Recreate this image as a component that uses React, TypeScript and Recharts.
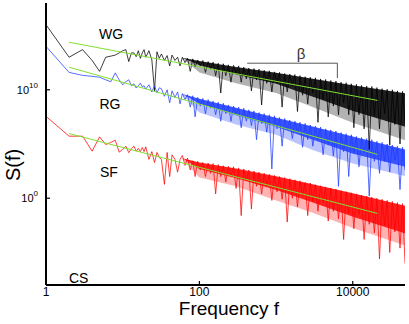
import { ComposedChart, Line, Area, XAxis, YAxis, ReferenceLine } from 'recharts'

const FONT = '"Liberation Sans", Arial, Helvetica, sans-serif'

// frequencies shared by all three spectra
const freq = [
  1, 2, 3, 4, 5, 6, 7, 8, 9, 10, 11, 12, 13, 14, 15, 16, 17, 18, 19, 20, 22, 24, 26, 28, 30,
  32, 35, 38, 41, 44, 48, 52, 56, 60, 65, 70, 76, 82, 88, 95, 103, 111, 120, 130, 140,
  151, 163, 176, 190, 205, 221, 239, 258, 279, 301, 325, 351, 379, 409, 442, 477, 515, 556, 600, 648,
  700, 756, 816, 881, 952, 1028, 1110, 1199, 1295, 1398, 1510, 1631, 1761, 1902, 2054, 2218, 2396, 2587, 2794, 3018,
  3259, 3520, 3802, 4106, 4434, 4789, 5172, 5586, 6033, 6515, 7036, 7599, 8207, 8864, 9573, 10339, 11166, 12059, 13024, 14066,
  15191, 16406, 17719, 19136, 20667, 22321, 24106, 26035, 28117, 30367, 32796, 35420, 38253, 41314, 44619, 48000,
]

// log10 S(f)
const wgLog = [
  16.0, 13.0, 13.7, 12.7, 11.7, 13.0, 13.1, 13.2, 13.4, 13.6, 13.7, 12.6, 13.4, 13.4, 13.05, 13.6, 12.9, 13.4, 13.7, 13.0, 13.6, 12.75, 9.9, 13.5, 12.9,
  13.3, 12.7, 13.15, 12.2, 13.2, 12.7, 13.0, 12.2, 13.0, 12.5,
  12.9, 11.7, 12.85, 12.1, 12.75, 12.2, 12.7, 11.6, 12.6, 11.9,
  12.55, 11.3, 12.45, 9.7, 12.4, 11.3, 12.3, 10.7, 12.25, 11.5,
  12.2, 10.7, 12.1, 11.0, 12.0, 9.9, 11.95, 10.9, 11.9, 8.6,
  11.8, 10.6, 11.75, 9.8, 11.65, 10.6, 11.6, 8.4, 11.5, 9.8,
  11.45, 10.4, 11.4, 8.0, 11.3, 9.5, 11.2, 8.7, 11.15, 9.7,
  11.1, 7.0, 11.0, 9.1, 10.95, 7.5, 10.85, 8.5, 10.8, 7.7,
  10.7, 8.8, 10.65, 7.7, 10.55, 6.5, 10.5, 7.7, 10.4, 6.4,
  10.35, 4.5, 10.3, 7.6, 10.2, 6.4, 10.1, 7.8, 10.05, 4.9,
  10.0, 6.8, 9.9, 5.0, 9.85, 6.9,
]

const rgLog = [
  14.0, 11.6, 11.33, 11.24, 11.15, 10.92, 10.74, 11.56, 10.92, 10.46, 10.74, 10.92, 10.37, 10.55, 10.16, 10.37, 10.61, 10.28, 10.37, 10.06, 10.46, 9.8, 10.37, 9.73, 10.18,
  10.1, 9.4, 10.0, 8.8, 9.9, 9.3, 9.8, 8.7, 9.65, 9.1,
  9.55, 8.4, 9.45, 7.5, 9.3, 8.5, 9.2, 7.8, 9.1, 8.3,
  8.95, 7.7, 8.85, 7.1, 8.75, 7.8, 8.6, 7.1, 8.5, 7.7,
  8.4, 6.5, 8.3, 7.1, 8.15, 6.7, 8.05, 5.4, 7.9, 6.9,
  7.8, 6.1, 7.7, 2.7, 7.6, 6.4, 7.45, 4.8, 7.35, 6.3,
  7.2, 5.5, 7.1, 6.1, 7.0, 4.7, 6.9, 5.4, 6.75, 4.8,
  6.65, 5.4, 6.55, 4.0, 6.4, 4.9, 6.3, 3.9, 6.2, 1.1,
  6.05, 4.3, 5.95, 2.0, 5.85, 4.2, 5.7, 2.9, 5.6, 4.2,
  5.5, 0.2, 5.4, 3.4, 5.25, 2.3, 5.15, 3.4, 5.0, 2.4,
  4.9, 3.5, 4.8, 0.8, 4.7, 2.6,
]

const sfLog = [
  7.55, 5.72, 5.72, 4.34, 5.66, 4.95, 5.14, 5.35, 4.25, 4.5, 4.8, 4.2, 4.56, 4.8, 4.34, 4.6, 4.3, 4.68, 4.3, 4.74, 3.58, 4.3, 3.3, 4.22, 3.76,
  3.58, 1.28, 4.22, 2.0, 4.0, 3.6, 2.4, 3.58, 3.94, 3.03,
  3.7, 2.6, 3.45, 2.0, 3.4, 2.6, 3.3, 2.0, 3.25, 2.3,
  3.2, 0.4, 3.1, 2.0, 3.0, 1.5, 2.95, 2.1, 2.9, 0.9,
  2.8, -1.6, 2.7, 1.6, 2.6, -1.0, 2.5, 1.1, 2.4, 0.4,
  2.3, 1.1, 2.2, -0.2, 2.1, 0.6, 2.0, -0.1, 1.9, -2.2,
  1.8, 0.0, 1.7, -0.8, 1.6, 0.2, 1.45, -1.6, 1.4, -0.3,
  1.25, -1.2, 1.15, -0.4, 1.05, -2.1, 0.95, -1.2, 0.85, -1.9,
  0.7, -3.8, 0.6, -1.4, 0.5, -2.8, 0.4, -1.5, 0.3, -3.8,
  0.2, -2.4, 0.1, -3.2, 0.0, -5.6, -0.1, -2.5, -0.2, -5.0,
  -0.3, -3.1, -0.4, -4.6, -0.5, -6.0,
]

// dense core of each noisy band and the lighter fringe under it (log10 bounds)
const coreFreq = [60, 100, 300, 1000, 3000, 10000, 48000]
const wgCoreHi = [12.95, 12.66, 12.11, 11.56, 11.01, 10.41, 9.68]
const wgCoreLo = [12.95, 12.25, 11.4, 10.55, 9.35, 8.05, 6.6]
const wgFringeLo = [12.9, 11.6, 10.6, 9.7, 8.4, 6.95, 5.35]
const rgCoreHi = [9.62, 9.18, 8.35, 7.43, 6.61, 5.69, 4.5]
const rgCoreLo = [9.62, 8.7, 7.65, 6.6, 5.4, 4.1, 2.9]
const rgFringeLo = [9.55, 7.9, 6.8, 5.85, 4.45, 3.2, 2.05]
const sfCoreHi = [3.68, 3.3, 2.75, 2.02, 1.28, 0.46, -0.69]
const sfCoreLo = [3.68, 2.7, 1.85, 0.75, -0.4, -1.7, -3.25]
const sfFringeLo = [3.6, 1.9, 1.1, -0.2, -1.35, -2.75, -4.35]

// power-law fits
const fitFreq = [2, 21000]
const wgFit = [14.38, 9.02]
const rgFit = [12.08, 4.04]
const sfFit = [5.96, -1.4]

const xTicks = [1, 100, 10000]
const yTicks = [1, 1e10]

const rows = freq.map((f, i) => ({ f, wg: 10 ** wgLog[i], rg: 10 ** rgLog[i], sf: 10 ** sfLog[i] }))
const fitRows = fitFreq.map((f, i) => ({ f, wg: 10 ** wgFit[i], rg: 10 ** rgFit[i], sf: 10 ** sfFit[i] }))
const coreRows = coreFreq.map((f, i) => ({
  f,
  wg: [10 ** wgCoreLo[i], 10 ** wgCoreHi[i]],
  rg: [10 ** rgCoreLo[i], 10 ** rgCoreHi[i]],
  sf: [10 ** sfCoreLo[i], 10 ** sfCoreHi[i]],
  wgF: [10 ** wgFringeLo[i], 10 ** wgCoreLo[i]],
  rgF: [10 ** rgFringeLo[i], 10 ** rgCoreLo[i]],
  sfF: [10 ** sfFringeLo[i], 10 ** sfCoreLo[i]],
}))

const X_DOMAIN: [number, number] = [1, 48000]
const Y_DOMAIN: [number, number] = [1e-8, 1e18]
const GREEN = '#80e030'
const BLUE = '#1f3cff'
const RED = '#ff0000'

function BottomTick({ x, y, payload }: any) {
  return (
    <g>
      <line x1={x} y1={y} x2={x} y2={y - 4} stroke="#000" strokeWidth={1.2} />
      <text x={x} y={y + 11} textAnchor="middle" fontSize={12} fontFamily={FONT} fill="#000">
        {payload.value}
      </text>
    </g>
  )
}

function TopTick({ x, y }: any) {
  return <line x1={x} y1={y} x2={x} y2={y + 4} stroke="#000" strokeWidth={1.2} />
}

function LeftTick({ x, y, payload }: any) {
  const exp = Math.round(Math.log10(payload.value))
  return (
    <g>
      <line x1={x} y1={y} x2={x + 4} y2={y} stroke="#000" strokeWidth={1.2} />
      <text x={x - 8} y={y + 4} textAnchor="end" fontSize={11} fontFamily={FONT} fill="#000">
        10<tspan dy={-6} fontSize={8}>{exp}</tspan>
      </text>
    </g>
  )
}

function RightTick({ x, y }: any) {
  return <line x1={x} y1={y} x2={x - 4} y2={y} stroke="#000" strokeWidth={1.2} />
}

export default function App() {
  return (
    <div style={{ position: 'absolute', left: 0, top: 0, width: 409, height: 324, background: '#fff' }}>
      <ComposedChart width={409} height={324} data={rows} margin={{ top: 3, right: 4, bottom: 0, left: 0 }}>
        <XAxis
          dataKey="f"
          type="number"
          scale="log"
          domain={X_DOMAIN}
          allowDataOverflow
          ticks={xTicks}
          interval={0}
          height={39}
          tickSize={0}
          tickMargin={0}
          tickLine={false}
          tick={<BottomTick />}
          axisLine={{ stroke: '#000', strokeWidth: 2 }}
        />
        <XAxis
          xAxisId="top"
          orientation="top"
          type="number"
          scale="log"
          domain={X_DOMAIN}
          allowDataOverflow
          ticks={[100, 10000]}
          interval={0}
          height={0}
          tickSize={0}
          tickMargin={0}
          tickLine={false}
          tick={<TopTick />}
          axisLine={{ stroke: '#000', strokeWidth: 1.5 }}
        />
        <YAxis
          type="number"
          scale="log"
          domain={Y_DOMAIN}
          allowDataOverflow
          ticks={yTicks}
          interval={0}
          width={46}
          tickSize={0}
          tickMargin={0}
          tickLine={false}
          tick={<LeftTick />}
          axisLine={{ stroke: '#000', strokeWidth: 2 }}
        />
        <YAxis
          yAxisId="right"
          orientation="right"
          type="number"
          scale="log"
          domain={Y_DOMAIN}
          allowDataOverflow
          ticks={yTicks}
          interval={0}
          width={0}
          tickSize={0}
          tickMargin={0}
          tickLine={false}
          tick={<RightTick />}
          axisLine={{ stroke: '#000', strokeWidth: 1 }}
        />

        <Area data={coreRows} dataKey="wgF" stroke="none" fill="#000" fillOpacity={0.3} isAnimationActive={false} />
        <Area data={coreRows} dataKey="rgF" stroke="none" fill={BLUE} fillOpacity={0.3} isAnimationActive={false} />
        <Area data={coreRows} dataKey="sfF" stroke="none" fill={RED} fillOpacity={0.3} isAnimationActive={false} />
        <Area data={coreRows} dataKey="wg" stroke="none" fill="#000" fillOpacity={0.88} isAnimationActive={false} />
        <Area data={coreRows} dataKey="rg" stroke="none" fill={BLUE} fillOpacity={0.88} isAnimationActive={false} />
        <Area data={coreRows} dataKey="sf" stroke="none" fill={RED} fillOpacity={0.88} isAnimationActive={false} />

        <Line dataKey="wg" stroke="#000" strokeWidth={0.75} dot={false} isAnimationActive={false} />
        <Line dataKey="rg" stroke={BLUE} strokeWidth={0.75} dot={false} isAnimationActive={false} />
        <Line dataKey="sf" stroke={RED} strokeWidth={0.75} dot={false} isAnimationActive={false} />

        <Line data={fitRows} dataKey="wg" stroke={GREEN} strokeWidth={1} dot={false} isAnimationActive={false} />
        <Line data={fitRows} dataKey="rg" stroke={GREEN} strokeWidth={1} dot={false} isAnimationActive={false} />
        <Line data={fitRows} dataKey="sf" stroke={GREEN} strokeWidth={1} dot={false} isAnimationActive={false} />

        <ReferenceLine
          segment={[{ x: 420, y: 10 ** 12.45 }, { x: 6300, y: 10 ** 12.45 }]}
          stroke="#555"
          strokeWidth={1}
        />
        <ReferenceLine
          segment={[{ x: 6300, y: 10 ** 12.45 }, { x: 6300, y: 10 ** 11.08 }]}
          stroke="#555"
          strokeWidth={1}
        />
      </ComposedChart>

      <svg width={409} height={324} style={{ position: 'absolute', left: 0, top: 0, pointerEvents: 'none' }}>
        <g fontFamily={FONT} fill="#000">
          <text x={99} y={39} fontSize={14}>WG</text>
          <text x={99.5} y={109} fontSize={14}>RG</text>
          <text x={100} y={177} fontSize={14}>SF</text>
          <text x={69} y={283} fontSize={14}>CS</text>
          <text x={301} y={59} fontSize={15} textAnchor="middle" fill="#333">β</text>
          <text x={229} y={315} fontSize={19} textAnchor="middle">Frequency f</text>
          <text x={20} y={165} fontSize={20} textAnchor="middle" transform="rotate(-90 20 165)">S(f)</text>
        </g>
      </svg>
    </div>
  )
}
